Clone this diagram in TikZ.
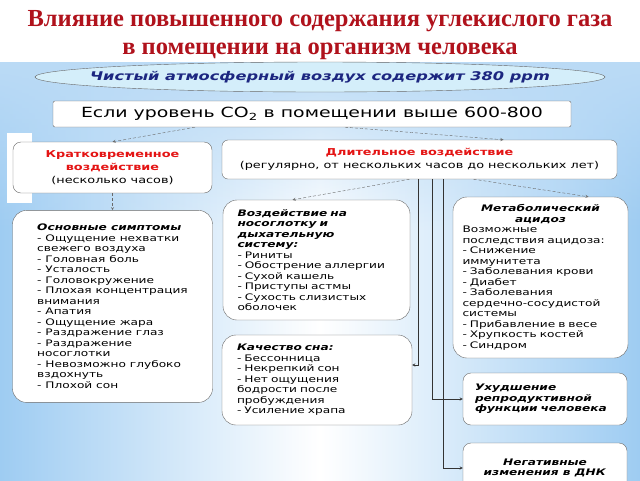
\documentclass[tikz,border=0pt]{standalone}
\usepackage{fontspec}
\setmainfont{Liberation Serif}
\newfontfamily\boxfont[FakeStretch=1.35]{DejaVu Sans}
\usepackage{tikz}
\usetikzlibrary{shapes.geometric, arrows, positioning, fadings}
\usepackage{xcolor}
\definecolor{titlered}{RGB}{176,18,28}
\definecolor{headred}{RGB}{228,20,20}
\definecolor{navy}{RGB}{28,38,128}
\definecolor{skyfill}{RGB}{212,238,250}
\definecolor{edgegray}{RGB}{105,105,105}
\definecolor{bgblue}{RGB}{158,204,242}
\tikzfading[name=hazefade, top color=transparent!0, bottom color=transparent!100]
\tikzstyle{dasharrow} = [densely dashed,->,>=stealth,draw=edgegray]
\tikzstyle{linkarrow} = [->,>=stealth,draw=black!80]
\tikzset{card/.style={draw=edgegray, fill=white, rounded corners=14pt, inner sep=0pt,
  align=left, font=\boxfont\fontsize{9}{10.5}\selectfont}}
\newcommand{\hd}[1]{\textbf{\textit{#1}}}

\begin{document}
\begin{tikzpicture}[x=1pt,y=-1pt]
    \useasboundingbox (0,0) rectangle (640,480);
    % background
    \fill[white] (0,0) rectangle (640,62);
    \shade[left color=bgblue, right color=bgblue, middle color=white] (0,62) rectangle (640,480);
    \fill[bgblue!70, path fading=hazefade] (0,62) rectangle (640,230);
    \fill[white] (7,133) rectangle (32,203);

    \node[font=\fontsize{24.5}{28}\selectfont\bfseries, text=titlered, align=center] (title) at (320,35)
        {Влияние повышенного содержания углекислого газа\\в помещении на организм человека};

    \node[ellipse, draw=edgegray, fill=skyfill, minimum width=570pt, minimum height=30pt, inner sep=0pt] (air) at (320,77) {};
    \node[font=\boxfont\fontsize{12}{14}\selectfont\bfseries\itshape, text=navy] (airtext) at (air)
        {Чистый атмосферный воздух содержит 380 ppm};
    \node[draw=edgegray, fill=white, rounded corners=2pt, minimum width=518pt, minimum height=26pt,
        inner sep=0pt, font=\boxfont\fontsize{14}{16}\selectfont] (co2) at (312,114)
        {Если уровень CO\textsubscript{2} в помещении выше 600-800};

    \node[card, rounded corners=8pt, minimum width=199pt, minimum height=51pt, align=center,
        font=\boxfont\fontsize{9.5}{13}\selectfont] (short) at (112.5,167.5)
        {\textcolor{headred}{\textbf{Кратковременное}}\\\textcolor{headred}{\textbf{воздействие}}\\(несколько часов)};
    \node[card, rounded corners=6pt, minimum width=395pt, minimum height=39pt, align=center,
        font=\boxfont\fontsize{9.5}{13}\selectfont] (long) at (419.5,159.5)
        {\textcolor{headred}{\textbf{Длительное воздействие}}\\(регулярно, от нескольких часов до нескольких лет)};

    \node[card, below=17pt of short, minimum width=200pt, minimum height=192pt] (symptoms)
        {\hd{Основные симптомы}\\ - Ощущение нехватки\\ свежего воздуха\\ - Головная боль\\ - Усталость\\
         - Головокружение\\ - Плохая концентрация\\ внимания\\ - Апатия\\ - Ощущение жара\\
         - Раздражение глаз\\ - Раздражение\\ носоглотки\\ - Невозможно глубоко\\ вздохнуть\\ - Плохой сон};
    \node[card, minimum width=187pt, minimum height=120pt, text width=158pt] (airway) at (316.5,260)
        {\hd{Воздействие на}\\ \hd{носоглотку и}\\ \hd{дыхательную}\\ \hd{систему:}\\ - Риниты\\
         - Обострение аллергии\\ - Сухой кашель\\ - Приступы астмы\\ - Сухость слизистых\\ оболочек};
    \node[card, minimum width=175pt, minimum height=161pt, text width=156pt] (meta) at (540.5,277.5)
        {\mbox{}\hfill\hd{Метаболический}\hfill\mbox{}\\ \mbox{}\hfill\hd{ацидоз}\hfill\mbox{}\\ Возможные\\
         последствия ацидоза:\\ - Снижение\\ иммунитета\\ - Заболевания крови\\ - Диабет\\ - Заболевания\\
         сердечно-сосудистой\\ системы\\ - Прибавление в весе\\ - Хрупкость костей\\ - Синдром};
    \node[card, minimum width=190pt, minimum height=90pt, text width=160pt] (sleep) at (317,380)
        {\hd{Качество сна:}\\ - Бессонница\\ - Некрепкий сон\\ - Нет ощущения\\ бодрости после\\
         пробуждения\\ - Усиление храпа};
    \node[card, rounded corners=8pt, minimum width=164pt, minimum height=52pt, text width=140pt] (repro) at (545,399)
        {\hd{Ухудшение}\\ \hd{репродуктивной}\\ \hd{функции человека}};
    \node[card, rounded corners=8pt, minimum width=164pt, minimum height=50pt, align=center] (dna) at (545,468)
        {\hd{Негативные}\\ \hd{изменения в ДНК}};

    \draw[dasharrow] ([xshift=-117pt]co2.south) -- (short.north);
    \draw[dasharrow] ([xshift=33pt]co2.south) -- ([xshift=84pt]long.north);
    \draw[dasharrow] (short) -- (symptoms);
    \draw[dasharrow] ([xshift=-10pt]long.south) -- ([xshift=-24pt]airway.north);
    \draw[dasharrow] ([xshift=54pt]long.south) -- ([xshift=48pt]meta.north);
    \draw[linkarrow] ([xshift=-1.5pt]long.south) |- ([yshift=15pt]sleep.east);
    \draw[linkarrow] ([xshift=12.5pt]long.south) |- (repro.west);
    \draw[linkarrow] ([xshift=23.5pt]long.south) |- (dna.west);
\end{tikzpicture}
\end{document}
